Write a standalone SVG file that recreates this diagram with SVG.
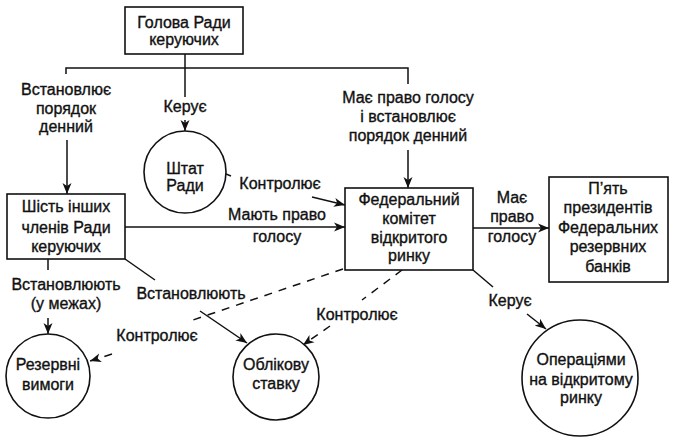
<svg xmlns="http://www.w3.org/2000/svg" width="688" height="441" viewBox="0 0 688 441">
<defs>
<marker id="ah" markerUnits="userSpaceOnUse" markerWidth="12" markerHeight="10" viewBox="0 0 12 10" refX="11" refY="5" orient="auto">
<path d="M0,0.5 L11,5 L0,9.5 L3,5 Z" fill="#111"/>
</marker>
</defs>
<style>
.t{font-family:"Liberation Sans","DejaVu Sans",sans-serif;font-size:16px;fill:#111;stroke:#111;stroke-width:0.35;text-anchor:middle}
.b{fill:#fff;stroke:#111;stroke-width:1.6}
.c{fill:none;stroke:#111;stroke-width:1.5}
.a{marker-end:url(#ah)}
.d{stroke-dasharray:8 7}
</style>
<rect width="688" height="441" fill="#fff"/>
<g id="connectors">
<path class="c" d="M185 54 V97"/>
<path class="c" d="M66 74 V68 H408 V84"/>
<path class="c a" d="M67 140 V194"/>
<path class="c a" d="M185 120 V131"/>
<path class="c a" d="M408 150 V188"/>
<path class="c" d="M226 174 L231 176"/>
<path class="c a" d="M312 197 L345 205"/>
<path class="c a" d="M125 227 H345"/>
<path class="c a" d="M473 228 H549"/>
<path class="c" d="M48 259 V270"/>
<path class="c a" d="M48 318 V334"/>
<path class="c" d="M125 259 L155 280"/>
<path class="c a" d="M200 311 L247 343"/>
<path class="c d" d="M343 269 L190 321"/>
<path class="c d a" d="M112 354 L90 361"/>
<path class="c d" d="M402 270 L362 300"/>
<path class="c d a" d="M330 326 L303 345"/>
<path class="c" d="M473 270 L493 287"/>
<path class="c a" d="M527 314 L546 329"/>
</g>
<g id="label-vstanovlyuye">
<text class="t" x="66" y="95">Встановлює</text>
<text class="t" x="66" y="114">порядок</text>
<text class="t" x="66" y="132">денний</text>
</g>
<g id="label-kerue1"><text class="t" x="185" y="112">Керує</text></g>
<g id="label-mae-pravo">
<text class="t" x="408" y="103">Має право голосу</text>
<text class="t" x="408" y="122">і встановлює</text>
<text class="t" x="408" y="141">порядок денний</text>
</g>
<g id="label-kontrol1"><text class="t" x="280" y="189">Контролює</text></g>
<g id="label-mayut">
<text class="t" x="277" y="220">Мають право</text>
<text class="t" x="277" y="242">голосу</text>
</g>
<g id="label-mae2">
<text class="t" x="512" y="203">Має</text>
<text class="t" x="512" y="222">право</text>
<text class="t" x="512" y="242">голосу</text>
</g>
<g id="label-vstan-mezhakh">
<text class="t" x="66" y="290">Встановлюють</text>
<text class="t" x="66" y="309">(у межах)</text>
</g>
<g id="label-vstan2"><text class="t" x="191" y="299">Встановлюють</text></g>
<g id="label-kontrol2"><text class="t" x="157" y="341">Контролює</text></g>
<g id="label-kontrol3"><text class="t" x="357" y="320">Контролює</text></g>
<g id="label-kerue2"><text class="t" x="510" y="306">Керує</text></g>
<g id="node-holova">
<rect class="b" x="125" y="7" width="118" height="47"/>
<text class="t" x="184" y="28">Голова Ради</text>
<text class="t" x="184" y="45">керуючих</text>
</g>
<g id="node-shtat">
<circle class="b" cx="185" cy="172" r="41"/>
<text class="t" x="185" y="174">Штат</text>
<text class="t" x="185" y="191">Ради</text>
</g>
<g id="node-shist">
<rect class="b" x="7" y="194" width="118" height="65"/>
<text class="t" x="66" y="212">Шість інших</text>
<text class="t" x="66" y="233">членів Ради</text>
<text class="t" x="66" y="252">керуючих</text>
</g>
<g id="node-fomc">
<rect class="b" x="345" y="188" width="128" height="82"/>
<text class="t" x="409" y="205">Федеральний</text>
<text class="t" x="409" y="224">комітет</text>
<text class="t" x="409" y="243">відкритого</text>
<text class="t" x="409" y="261">ринку</text>
</g>
<g id="node-five">
<rect class="b" x="549" y="177" width="119" height="105"/>
<text class="t" x="608" y="194">П’ять</text>
<text class="t" x="608" y="213">президентів</text>
<text class="t" x="608" y="233">Федеральних</text>
<text class="t" x="608" y="252">резервних</text>
<text class="t" x="608" y="272">банків</text>
</g>
<g id="node-rezervni">
<circle class="b" cx="48" cy="376" r="42"/>
<text class="t" x="48" y="370">Резервні</text>
<text class="t" x="48" y="390">вимоги</text>
</g>
<g id="node-oblikovu">
<circle class="b" cx="276" cy="377" r="43"/>
<text class="t" x="276" y="370">Облікову</text>
<text class="t" x="276" y="389">ставку</text>
</g>
<g id="node-operatsii">
<circle class="b" cx="580" cy="378" r="58"/>
<text class="t" x="581" y="365">Операціями</text>
<text class="t" x="581" y="385">на відкритому</text>
<text class="t" x="581" y="403">ринку</text>
</g>
</svg>
